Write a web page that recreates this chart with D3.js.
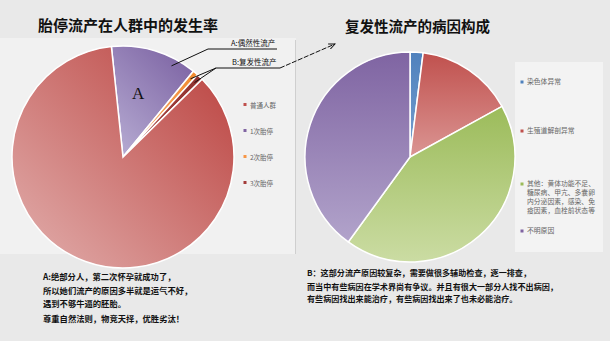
<!DOCTYPE html>
<html lang="zh">
<head>
<meta charset="utf-8">
<script src="https://d3js.org/d3.v7.min.js"></script>
<style>
    body { margin: 0; background: #e9e9e9; font-family: "Noto Sans CJK SC", sans-serif; }
    svg { display: block; }
</style>
</head>
<body>
<div id="chart"></div>
<script>
// left pie: order clockwise from just left of 12 o'clock
var leftCats = ["1次胎停", "2次胎停", "3次胎停", "普通人群"];
var leftVals = [12.6, 0.8, 0.9, 85.7];
var leftLegend = ["普通人群", "1次胎停", "2次胎停", "3次胎停"];

// right pie
var rightCats = ["染色体异常", "生殖道解剖异常", "其他", "不明原因"];
var rightVals = [2, 15, 43, 40];
var rightLegend = [
    ["染色体异常"],
    ["生殖道解剖异常"],
    ["其他：黄体功能不足、", "糖尿病、甲亢、多囊卵", "内分泌因素，感染、免", "疫因素，血栓前状态等"],
    ["不明原因"]
];

var notesA = [
    "A:绝部分人，第二次怀孕就成功了，",
    "所以她们流产的原因多半就是运气不好，",
    "遇到不够牛逼的胚胎。",
    "尊重自然法则，物竞天择，优胜劣汰！"
];
var notesB = [
    "B：这部分流产原因较复杂，需要做很多辅助检查，逐一排查，",
    "而当中有些病因在学术界尚有争议。并且有很大一部分人找不出病因，",
    "有些病因找出来能治疗，有些病因找出来了也未必能治疗。"
];

var W = 610, H = 341;
var svg = d3.select("#chart").append("svg").attr("width", W).attr("height", H);
var defs = svg.append("defs");

// arrow marker
defs.append("marker").attr("id", "arrow")
    .attr("viewBox", "0 0 10 10").attr("refX", 9).attr("refY", 5)
    .attr("markerWidth", 7).attr("markerHeight", 7).attr("orient", "auto")
    .append("path").attr("d", "M0,1 L9,5 L0,9").attr("fill", "none")
    .attr("stroke", "#111").attr("stroke-width", 1.3);

// gradients are in the pie group's local coords (centre = 0,0)
function grad(id, x1, y1, x2, y2, c1, c2) {
    var g = defs.append("linearGradient").attr("id", id)
        .attr("gradientUnits", "userSpaceOnUse")
        .attr("x1", x1).attr("y1", y1).attr("x2", x2).attr("y2", y2);
    g.append("stop").attr("offset", "0%").attr("stop-color", c1);
    g.append("stop").attr("offset", "100%").attr("stop-color", c2);
}

// panel backgrounds
svg.append("rect").attr("x", 0).attr("y", 38).attr("width", 296).attr("height", 216).attr("fill", "#f1f1f1");
svg.append("line").attr("x1", 295.5).attr("x2", 295.5).attr("y1", 40).attr("y2", 254)
    .attr("stroke", "#cfcfcf");
svg.append("rect").attr("x", 515).attr("y", 62).attr("width", 88).attr("height", 190).attr("fill", "#f3f3f3");

// ---- left pie ----
var lc = [123, 157], lr = 111;
grad("gRed", -lr * 0.7, lr * 0.7, lr * 0.7, -lr * 0.7, "#dc9f9d", "#c0504d");
grad("gPur", -10, -20, 70, -100, "#b2a6cf", "#7c63a3");
grad("gOra", 0, 0, 80, -80, "#f8b27a", "#f28a2e");
grad("gDrd", 0, 0, 80, -80, "#b04a47", "#8f302e");
var leftFill = ["url(#gPur)", "url(#gOra)", "url(#gDrd)", "url(#gRed)"];
var leftKey = ["#c0504d", "#8064a2", "#f79646", "#a33c3a"];

var startL = -6 * Math.PI / 180;
var pieL = d3.pie().sort(null).startAngle(startL).endAngle(startL + 2 * Math.PI);
var arcL = d3.arc().innerRadius(0).outerRadius(lr);
var gL = svg.append("g").attr("transform", "translate(" + lc + ")");
var arcsL = pieL(leftVals);
gL.selectAll("path").data(arcsL).enter().append("path")
    .attr("d", arcL)
    .attr("fill", function(d, i) { return leftFill[i]; })
    .attr("stroke", "#fff").attr("stroke-width", 1.5);

// "A" inside the purple slice
var aPos = d3.arc().innerRadius(lr * 0.6).outerRadius(lr * 0.6).centroid(arcsL[0]);
gL.append("text").attr("x", aPos[0] - 4).attr("y", aPos[1] + 6)
    .attr("text-anchor", "middle").attr("font-family", "'Liberation Serif', serif")
    .attr("font-size", 17).attr("fill", "#111").text("A");

// callouts
function edgePoint(a, frac) {
    var ang = a.startAngle + (a.endAngle - a.startAngle) * frac;
    return [lc[0] + Math.sin(ang) * lr * 0.93, lc[1] - Math.cos(ang) * lr * 0.93];
}
var pA = edgePoint(arcsL[0], 0.75);
svg.append("polyline").attr("points", [pA, [208, 49], [277, 49]].join(" "))
    .attr("fill", "none").attr("stroke", "#111").attr("stroke-width", 1);
svg.append("text").attr("x", 231).attr("y", 46).attr("font-size", 7.5).attr("fill", "#111")
    .text("A:偶然性流产");

var pB1 = edgePoint(arcsL[1], 0.5), pB2 = edgePoint(arcsL[2], 0.5);
svg.append("polyline").attr("points", [pB1, [216, 68], [280, 68]].join(" "))
    .attr("fill", "none").attr("stroke", "#111").attr("stroke-width", 1);
svg.append("line").attr("x1", 216).attr("y1", 68).attr("x2", pB2[0]).attr("y2", pB2[1])
    .attr("stroke", "#111").attr("stroke-width", 1);
svg.append("text").attr("x", 232).attr("y", 65).attr("font-size", 7.5).attr("fill", "#111")
    .text("B:复发性流产");
svg.append("line").attr("x1", 280).attr("y1", 68).attr("x2", 335).attr("y2", 44)
    .attr("stroke", "#111").attr("stroke-width", 1).attr("stroke-dasharray", "5,1.5")
    .attr("marker-end", "url(#arrow)");

// left legend
var legL = svg.append("g").attr("transform", "translate(245,0)");
legL.selectAll("rect").data(leftLegend).enter().append("rect")
    .attr("x", -1.5).attr("y", function(d, i) { return 103 + i * 26; })
    .attr("width", 3).attr("height", 3)
    .attr("fill", function(d, i) { return leftKey[i]; });
legL.selectAll("text").data(leftLegend).enter().append("text")
    .attr("x", 5).attr("y", function(d, i) { return 107.5 + i * 26; })
    .attr("font-size", 6.5).attr("fill", "#666").text(function(d) { return d; });

// ---- right pie ----
var rc = [410, 157], rr = 105;
grad("rBlu", 0, -rr, 0, rr, "#4f81bd", "#9fbde0");
grad("rRed", 0, -rr, 0, rr * 0.2, "#c0504d", "#e0a3a1");
grad("rGrn", 0, -rr * 0.5, 0, rr, "#9bbb59", "#cbdca3");
grad("rPur", 0, -rr, 0, rr, "#7f64a2", "#b7aacf");
var rightFill = ["url(#rBlu)", "url(#rRed)", "url(#rGrn)", "url(#rPur)"];
var rightKey = ["#4f81bd", "#c0504d", "#9bbb59", "#8064a2"];

var pieR = d3.pie().sort(null);
var arcR = d3.arc().innerRadius(0).outerRadius(rr);
var gR = svg.append("g").attr("transform", "translate(" + rc + ")");
gR.selectAll("path").data(pieR(rightVals)).enter().append("path")
    .attr("d", arcR)
    .attr("fill", function(d, i) { return rightFill[i]; })
    .attr("stroke", "#fff").attr("stroke-width", 1.5);

// right legend
var legY = [84, 133, 186, 233];
var legR = svg.append("g").attr("transform", "translate(522,0)");
legR.selectAll("rect").data(rightLegend).enter().append("rect")
    .attr("x", -1.5).attr("y", function(d, i) { return legY[i] - 3.5; })
    .attr("width", 3).attr("height", 3)
    .attr("fill", function(d, i) { return rightKey[i]; });
legR.selectAll("text").data(rightLegend).enter().append("text")
    .attr("x", 5).attr("y", function(d, i) { return legY[i]; })
    .attr("font-size", 6.8).attr("fill", "#666")
    .each(function(d) {
        d3.select(this).selectAll("tspan").data(d).enter().append("tspan")
            .attr("x", 5).attr("dy", function(t, j) { return j === 0 ? 0 : 9; })
            .text(function(t) { return t; });
    });

// ---- titles ----
svg.append("text").attr("x", 38).attr("y", 31).attr("font-size", 15).attr("font-weight", 700)
    .attr("fill", "#111").text("胎停流产在人群中的发生率");
svg.append("text").attr("x", 345).attr("y", 32).attr("font-size", 14.5).attr("font-weight", 700)
    .attr("fill", "#111").text("复发性流产的病因构成");

// ---- notes ----
var nyA = [280, 294, 307, 322];
svg.selectAll(".noteA").data(notesA).enter().append("text").attr("class", "noteA")
    .attr("x", 43).attr("y", function(d, i) { return nyA[i]; })
    .attr("font-size", 8.3).attr("font-weight", 700).attr("fill", "#111")
    .text(function(d) { return d; });
var nyB = [276, 290, 302];
svg.selectAll(".noteB").data(notesB).enter().append("text").attr("class", "noteB")
    .attr("x", 307).attr("y", function(d, i) { return nyB[i]; })
    .attr("font-size", 8.1).attr("font-weight", 700).attr("fill", "#111")
    .text(function(d) { return d; });
</script>
</body>
</html>
